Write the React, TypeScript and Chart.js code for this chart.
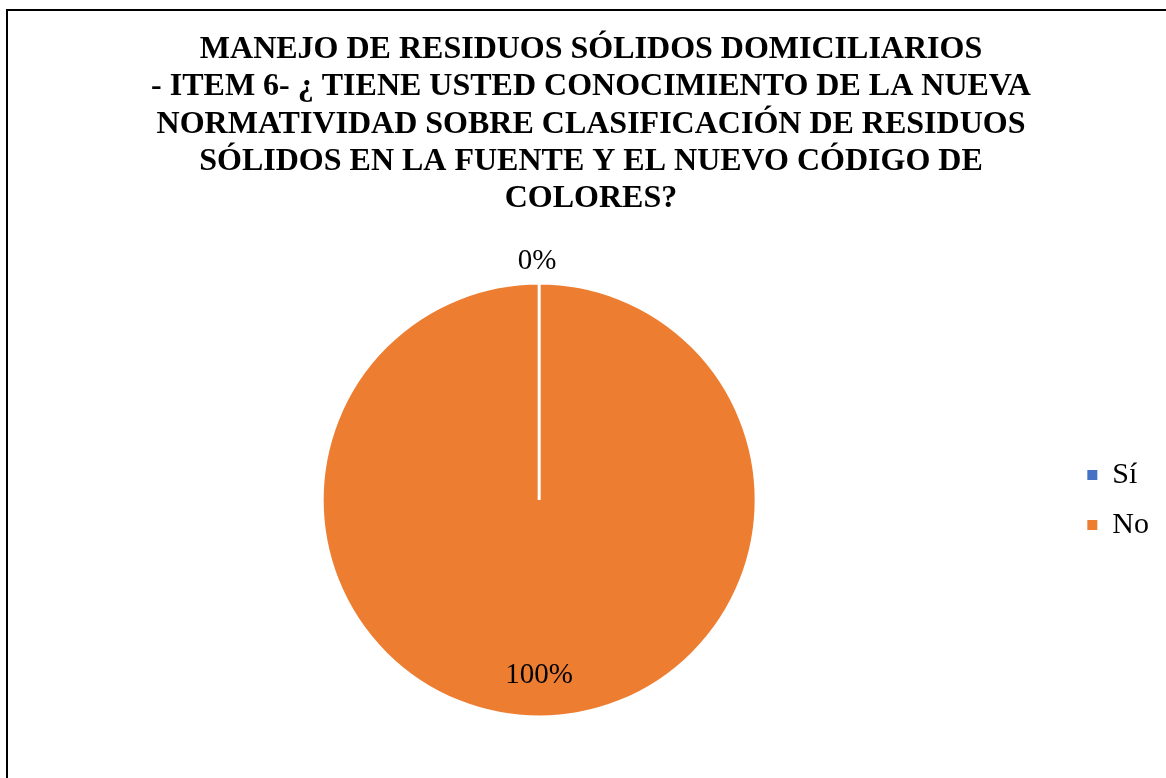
import React, { useEffect, useRef } from "react";
import { Chart, registerables } from "chart.js";

Chart.register(...registerables);

const categories = ["Sí", "No"];
const values = [0, 100];
const colors = ["#4472C4", "#ED7D31"];
const titleLines = [
  "MANEJO DE RESIDUOS SÓLIDOS DOMICILIARIOS",
  "- ITEM 6- ¿ TIENE USTED CONOCIMIENTO DE LA NUEVA",
  "NORMATIVIDAD SOBRE CLASIFICACIÓN DE RESIDUOS",
  "SÓLIDOS EN LA FUENTE Y EL NUEVO CÓDIGO DE",
  "COLORES?",
];

const SERIF = '"Liberation Serif", "Times New Roman", serif';

export default function App() {
  const ref = useRef<HTMLCanvasElement>(null);

  useEffect(() => {
    if (!ref.current) return;
    const total = values.reduce((a, b) => a + b, 0);

    const titlePlugin = {
      id: "titleLines",
      afterDraw(chart: any) {
        const ctx = chart.ctx;
        ctx.save();
        ctx.font = `bold 32px ${SERIF}`;
        ctx.fillStyle = "#000";
        ctx.textAlign = "center";
        ctx.textBaseline = "alphabetic";
        titleLines.forEach((line, i) => {
          ctx.fillText(line, 591, 58 + i * 37.25);
        });
        ctx.restore();
      },
    };

    const labelPlugin = {
      id: "pctLabels",
      afterDatasetsDraw(chart: any) {
        const meta = chart.getDatasetMeta(0);
        const ctx = chart.ctx;
        ctx.save();
        ctx.font = `29px ${SERIF}`;
        ctx.fillStyle = "#000";
        ctx.textAlign = "center";
        ctx.textBaseline = "middle";
        meta.data.forEach((arc: any, i: number) => {
          const { x, y, startAngle, endAngle, outerRadius } = arc.getProps(
            ["x", "y", "startAngle", "endAngle", "outerRadius"],
            true
          );
          const mid = (startAngle + endAngle) / 2;
          const v = values[i];
          const frac = v / total;
          const text = Math.round(frac * 100) + "%";
          const r = frac < 0.05 ? outerRadius + 22 : outerRadius * 0.81;
          ctx.fillText(text, x + Math.cos(mid) * r - (frac < 0.05 ? 2 : 0), y + Math.sin(mid) * r);
        });
        ctx.restore();
      },
    };

    const chart = new Chart(ref.current, {
      type: "pie",
      data: {
        labels: categories,
        datasets: [
          {
            data: values,
            backgroundColor: colors,
            borderColor: "#FFFFFF",
            borderWidth: 3,
            radius: 217,
          } as any,
        ],
      },
      options: {
        responsive: false,
        animation: false,
        events: [],
        layout: {
          padding: { top: 284, bottom: 62, left: 11, right: 7 },
        },
        plugins: {
          title: { display: false },
          tooltip: { enabled: false },
          legend: {
            display: true,
            position: "right",
            labels: {
              color: "#000",
              font: { family: SERIF, size: 30 },
              boxWidth: 10,
              boxHeight: 10,
              padding: 20,
              generateLabels: (c: any) =>
                (c.data.labels as string[]).map((l, i) => ({
                  text: l,
                  fillStyle: colors[i],
                  strokeStyle: colors[i],
                  lineWidth: 0,
                  hidden: false,
                  index: i,
                  fontColor: "#000",
                })),
            },
          },
        },
      },
      plugins: [titlePlugin, labelPlugin],
    });

    return () => chart.destroy();
  }, []);

  return (
    <div
      style={{
        position: "absolute",
        left: 0,
        top: 0,
        width: 1166,
        height: 778,
        overflow: "hidden",
        background: "#fff",
      }}
    >
      <div
        style={{
          position: "absolute",
          left: 6,
          top: 9,
          width: 1400,
          height: 1000,
          border: "2px solid #000",
        }}
      />
      <canvas
        ref={ref}
        width={1166}
        height={778}
        style={{ position: "absolute", left: 0, top: 0 }}
      />
    </div>
  );
}
